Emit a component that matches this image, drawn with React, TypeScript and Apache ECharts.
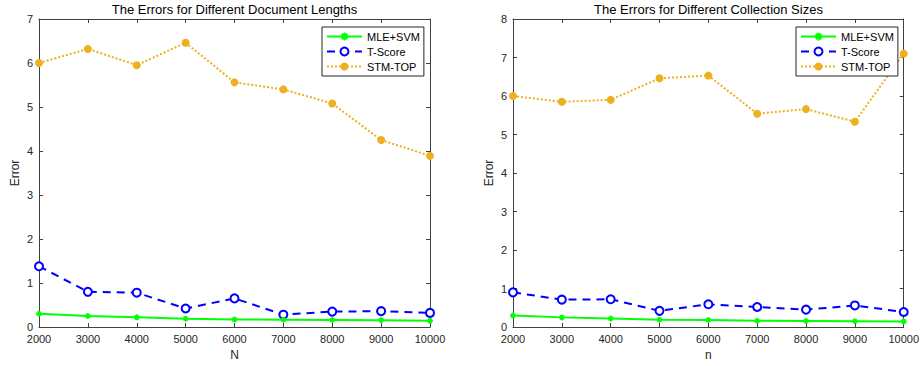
import React, { useEffect, useRef } from "react";
import * as echarts from "echarts";

const xValues = [2000, 3000, 4000, 5000, 6000, 7000, 8000, 9000, 10000];
const seriesNames = ["MLE+SVM", "T-Score", "STM-TOP"];

// Left: Document lengths
const docMle = [0.3, 0.25, 0.22, 0.19, 0.17, 0.165, 0.16, 0.155, 0.14];
const docTScore = [1.38, 0.8, 0.78, 0.42, 0.65, 0.28, 0.35, 0.36, 0.32];
const docStm = [6.0, 6.32, 5.95, 6.46, 5.56, 5.4, 5.08, 4.25, 3.89];

// Right: Collection sizes
const colMle = [0.3, 0.25, 0.22, 0.19, 0.18, 0.16, 0.155, 0.15, 0.145];
const colTScore = [0.9, 0.71, 0.72, 0.42, 0.59, 0.52, 0.45, 0.56, 0.39];
const colStm = [6.0, 5.85, 5.9, 6.46, 6.53, 5.54, 5.66, 5.33, 7.1];

const titles = [
  "The Errors for Different Document Lengths",
  "The Errors for Different Collection Sizes",
];
const xNames = ["N", "n"];
const yMaxes = [7, 8];

const GREEN = "#00FF00";
const BLUE = "#0000FF";
const ORANGE = "#EDB120";
const AXIS = "#404040";
const TEXT = "#262626";
const FONT = "'Liberation Sans', Arial, Helvetica, sans-serif";

const STAR =
  "path://M5 0 L5 10 M0 5 L10 5 M1.6 1.6 L8.4 8.4 M1.6 8.4 L8.4 1.6";

const grids = [
  { left: 39, top: 19, width: 391, height: 308 },
  { left: 513, top: 19, width: 391, height: 308 },
];

function pairs(vals: number[]) {
  return xValues.map((x, i) => [x, vals[i]]);
}

export default function App() {
  const ref = useRef<HTMLDivElement>(null);
  useEffect(() => {
    if (!ref.current) return;
    const chart = echarts.init(ref.current, undefined, { renderer: "svg" });
    const data = [
      [docMle, docTScore, docStm],
      [colMle, colTScore, colStm],
    ];

    const xAxis: any[] = [];
    const yAxis: any[] = [];
    const series: any[] = [];
    const legend: any[] = [];
    const graphic: any[] = [];

    grids.forEach((g, gi) => {
      const baseX = {
        type: "value",
        gridIndex: gi,
        min: 2000,
        max: 10000,
        interval: 1000,
        splitLine: { show: false },
        axisLine: { show: true, onZero: false, lineStyle: { color: AXIS, width: 1 } },
        axisTick: { show: true, inside: true, length: 4, lineStyle: { color: AXIS } },
      };
      xAxis.push({
        ...baseX,
        position: "bottom",
        name: xNames[gi],
        nameLocation: "middle",
        nameGap: 22,
        nameTextStyle: { color: TEXT, fontSize: 12, fontFamily: FONT },
        axisLabel: {
          color: TEXT,
          fontSize: 11,
          fontFamily: FONT,
          margin: 6,
          formatter: (v: number) => String(v),
        },
      });
      xAxis.push({
        ...baseX,
        position: "top",
        axisLabel: { show: false },
      });
      const baseY = {
        type: "value",
        gridIndex: gi,
        min: 0,
        max: yMaxes[gi],
        interval: 1,
        splitLine: { show: false },
        axisLine: { show: true, onZero: false, lineStyle: { color: AXIS, width: 1 } },
        axisTick: { show: true, inside: true, length: 4, lineStyle: { color: AXIS } },
      };
      yAxis.push({
        ...baseY,
        position: "left",
        name: "Error",
        nameLocation: "middle",
        nameGap: 18,
        nameTextStyle: { color: TEXT, fontSize: 12, fontFamily: FONT },
        axisLabel: { color: TEXT, fontSize: 11, fontFamily: FONT, margin: 6 },
      });
      yAxis.push({
        ...baseY,
        position: "right",
        axisLabel: { show: false },
      });

      const [mle, ts, stm] = data[gi];
      series.push({
        name: seriesNames[0],
        type: "line",
        xAxisIndex: gi * 2,
        yAxisIndex: gi * 2,
        data: pairs(mle),
        symbol: STAR,
        symbolSize: 6,
        lineStyle: { color: GREEN, width: 2, type: "solid" },
        itemStyle: { color: GREEN, borderColor: GREEN, borderWidth: 1.5 },
        z: 4,
      });
      series.push({
        name: seriesNames[1],
        type: "line",
        xAxisIndex: gi * 2,
        yAxisIndex: gi * 2,
        data: pairs(ts),
        symbol: "emptyCircle",
        symbolSize: 8,
        lineStyle: { color: BLUE, width: 2, type: [8, 6] },
        itemStyle: { color: BLUE, borderColor: BLUE, borderWidth: 2 },
        z: 3,
      });
      series.push({
        name: seriesNames[2],
        type: "line",
        xAxisIndex: gi * 2,
        yAxisIndex: gi * 2,
        data: pairs(stm),
        symbol: "circle",
        symbolSize: 8,
        lineStyle: { color: ORANGE, width: 2, type: [2, 2] },
        itemStyle: { color: ORANGE },
        z: 2,
      });

      legend.push({
        orient: "vertical",
        left: g.left + g.width - 108,
        top: 27,
        data: seriesNames,
        itemWidth: 35,
        itemHeight: 10,
        itemGap: 4,
        padding: [4, 4, 4, 4],
        borderColor: "#262626",
        borderWidth: 1,
        backgroundColor: "#ffffff",
        textStyle: { color: "#000", fontSize: 11, fontFamily: FONT },
        selectedMode: false,
      });

      graphic.push({
        type: "text",
        x: g.left + g.width / 2,
        y: 9,
        style: {
          text: titles[gi],
          fill: "#000",
          font: `13px ${FONT}`,
          textAlign: "center",
          textVerticalAlign: "middle",
        },
      });
    });

    chart.setOption({
      animation: false,
      backgroundColor: "#ffffff",
      grid: grids.map((g) => ({ ...g, containLabel: false })),
      xAxis,
      yAxis,
      series,
      legend,
      graphic,
    });
    return () => chart.dispose();
  }, []);

  return (
    <div
      ref={ref}
      style={{ position: "fixed", left: 0, top: 0, width: 922, height: 366 }}
    />
  );
}
